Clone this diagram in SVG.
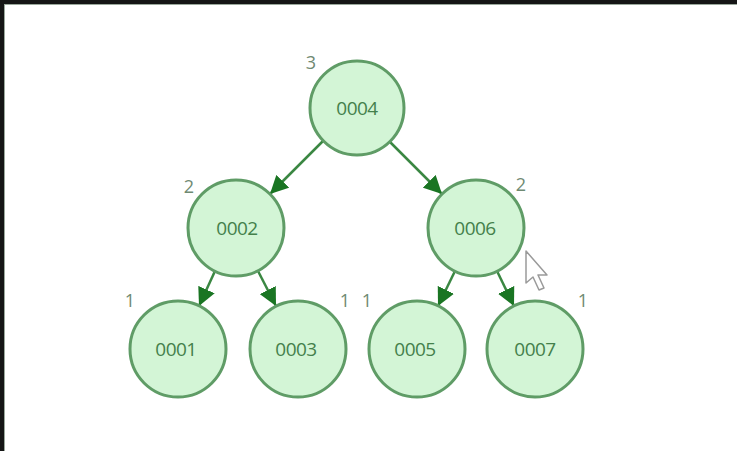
<svg xmlns="http://www.w3.org/2000/svg" width="737" height="451" viewBox="0 0 737 451">
<style>
.node circle{fill:#d3f5d6;stroke:#5f9c66;stroke-width:3}
.node text{font-family:"Open Sans","Noto Sans",sans-serif;font-size:19px;fill:#44804b;text-anchor:middle;dominant-baseline:central;letter-spacing:-0.5px}
.lbl{font-family:"Open Sans","Noto Sans",sans-serif;font-size:18px;fill:#6f8a72;text-anchor:middle;dominant-baseline:central}
.edge{stroke:#3a8742;stroke-width:2.5;fill:none;marker-end:url(#ah)}
</style>
<defs>
<marker id="ah" markerUnits="userSpaceOnUse" markerWidth="20" markerHeight="18" refX="18" refY="9" orient="auto">
<path d="M0,0 L18,9 L0,18 Z" fill="#1a7523"/>
</marker>
</defs>
<rect x="0" y="0" width="737" height="451" fill="#ffffff"/>
<rect x="0" y="0" width="737" height="4" fill="#151515"/>
<rect x="0" y="0" width="4" height="451" fill="#151515"/>
<line x1="4" y1="4.5" x2="737" y2="4.5" stroke="#9aa89c" stroke-width="1"/>
<line x1="4.5" y1="4" x2="4.5" y2="451" stroke="#9aa89c" stroke-width="1"/>
<g id="connectors">
<line class="edge" x1="323" y1="141" x2="270" y2="194"/>
<line class="edge" x1="389" y1="141" x2="442" y2="194"/>
<line class="edge" x1="215" y1="271" x2="199" y2="306"/>
<line class="edge" x1="258" y1="271" x2="276" y2="306"/>
<line class="edge" x1="455" y1="271" x2="438" y2="306"/>
<line class="edge" x1="497" y1="271" x2="514" y2="306"/>
</g>
<g id="n0004" class="node"><circle cx="357" cy="108" r="47"/><text x="357" y="108">0004</text></g>
<g id="n0002" class="node"><circle cx="236" cy="228" r="48"/><text x="237" y="228">0002</text></g>
<g id="n0006" class="node"><circle cx="476" cy="228" r="48"/><text x="475" y="228">0006</text></g>
<g id="n0001" class="node"><circle cx="178" cy="349" r="48"/><text x="176" y="349">0001</text></g>
<g id="n0003" class="node"><circle cx="298" cy="349" r="48"/><text x="296" y="349">0003</text></g>
<g id="n0005" class="node"><circle cx="417" cy="349" r="48"/><text x="415" y="349">0005</text></g>
<g id="n0007" class="node"><circle cx="535" cy="349" r="48"/><text x="535" y="349">0007</text></g>
<g id="labels">
<text class="lbl" x="311" y="62">3</text>
<text class="lbl" x="189" y="186">2</text>
<text class="lbl" x="521" y="184">2</text>
<text class="lbl" x="130" y="300">1</text>
<text class="lbl" x="345" y="300">1</text>
<text class="lbl" x="367" y="300">1</text>
<text class="lbl" x="583" y="300">1</text>
</g>
<polygon points="526,251 526,283 533,277 539,290 544,288 538,275 547,275" fill="#ffffff" stroke="#9a9a9a" stroke-width="1.5" stroke-linejoin="round"/>
</svg>
